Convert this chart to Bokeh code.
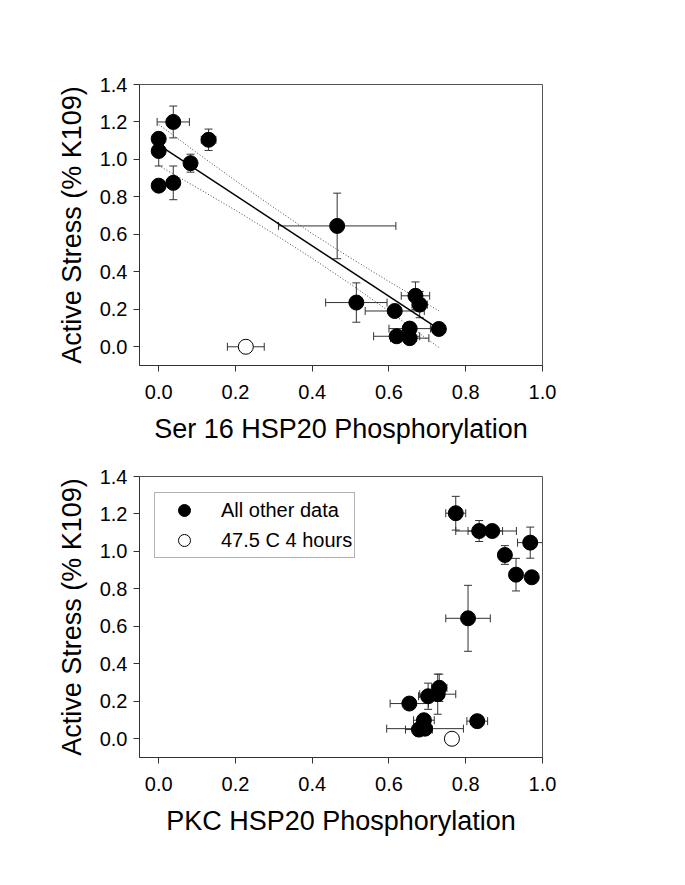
from bokeh.plotting import figure
from bokeh.models import (ColumnDataSource, Whisker, TeeHead, FixedTicker,
                          PrintfTickFormatter, Legend, LegendItem)
from bokeh.layouts import column
from bokeh.embed import file_html
from bokeh.resources import INLINE

# ---------------- data ----------------
x_ticks = [0.0, 0.2, 0.4, 0.6, 0.8, 1.0]
y_ticks = [0.0, 0.2, 0.4, 0.6, 0.8, 1.0, 1.2, 1.4]

# Panel 1: Ser 16 HSP20 phosphorylation
ser16_x    = [0.000, 0.000, 0.000, 0.038, 0.038, 0.130, 0.083, 0.465, 0.515, 0.615, 0.669, 0.680, 0.730, 0.654, 0.620, 0.654]
ser16_y    = [1.110, 1.045, 0.860, 1.200, 0.875, 1.105, 0.980, 0.645, 0.236, 0.191, 0.272, 0.225, 0.095, 0.097, 0.056, 0.046]
ser16_xerr = [0.000, 0.000, 0.000, 0.042, 0.000, 0.019, 0.000, 0.153, 0.080, 0.077, 0.037, 0.020, 0.015, 0.054, 0.060, 0.050]
ser16_yerr = [0.000, 0.080, 0.000, 0.085, 0.090, 0.057, 0.048, 0.175, 0.105, 0.000, 0.074, 0.070, 0.000, 0.000, 0.000, 0.000]

ser16_open_x    = [0.227]
ser16_open_y    = [0.000]
ser16_open_xerr = [0.048]
ser16_open_yerr = [0.000]

fit_x = [0.000, 0.730]
fit_y = [1.078, 0.094]

band_x     = [0.000, 0.100, 0.200, 0.300, 0.400, 0.500, 0.600, 0.730]
band_upper = [1.187, 1.035, 0.887, 0.743, 0.604, 0.474, 0.348, 0.192]
band_lower = [0.967, 0.849, 0.729, 0.603, 0.472, 0.334, 0.190, -0.004]

# Panel 2: PKC HSP20 phosphorylation
pkc_x    = [0.774, 0.835, 0.869, 0.968, 0.902, 0.931, 0.972, 0.806, 0.731, 0.727, 0.702, 0.653, 0.691, 0.678, 0.694, 0.830]
pkc_y    = [1.204, 1.109, 1.109, 1.047, 0.981, 0.876, 0.862, 0.643, 0.272, 0.238, 0.227, 0.188, 0.099, 0.049, 0.054, 0.094]
pkc_xerr = [0.026, 0.061, 0.063, 0.033, 0.000, 0.000, 0.000, 0.058, 0.020, 0.047, 0.025, 0.050, 0.027, 0.035, 0.100, 0.027]
pkc_yerr = [0.090, 0.056, 0.000, 0.083, 0.050, 0.087, 0.000, 0.176, 0.073, 0.107, 0.070, 0.000, 0.000, 0.000, 0.000, 0.000]

pkc_open_x    = [0.764]
pkc_open_y    = [0.000]
pkc_open_xerr = [0.000]
pkc_open_yerr = [0.000]

legend_labels = ["All other data", "47.5 C 4 hours"]

FONT = "Liberation Sans"
AX = "#333333"


def make_fig(height, border_top, border_bottom, xlabel):
    p = figure(width=574, height=height, x_range=(-0.05, 1.0), y_range=(-0.1, 1.4),
               output_backend="svg", toolbar_location=None,
               min_border_left=139, min_border_right=32,
               min_border_top=border_top, min_border_bottom=border_bottom)
    p.xgrid.visible = False
    p.ygrid.visible = False
    p.outline_line_color = "#555555"
    p.outline_line_width = 1
    p.background_fill_color = "white"
    p.border_fill_color = "white"
    for ax, ticks in ((p.xaxis[0], x_ticks), (p.yaxis[0], y_ticks)):
        ax.ticker = FixedTicker(ticks=ticks)
        ax.formatter = PrintfTickFormatter(format="%.1f")
        ax.minor_tick_line_color = None
        ax.major_tick_in = 0
        ax.major_tick_out = 6
        ax.axis_line_color = AX
        ax.major_tick_line_color = AX
        ax.major_label_text_font = FONT
        ax.major_label_text_font_size = "20px"
        ax.major_label_text_color = "black"
        ax.axis_label_text_font = FONT
        ax.axis_label_text_font_size = "27px"
        ax.axis_label_text_font_style = "normal"
        ax.axis_label_text_color = "black"
    p.xaxis.axis_label = xlabel
    p.yaxis.axis_label = "Active Stress (% K109)"
    p.xaxis.major_label_standoff = 13
    p.xaxis.axis_label_standoff = 12
    p.yaxis.major_label_standoff = 6
    p.yaxis.axis_label_standoff = 10
    return p


def add_errors(p, xs, ys, xe, ye):
    src = ColumnDataSource(dict(
        x=xs, y=ys,
        xl=[a - e for a, e in zip(xs, xe)], xu=[a + e for a, e in zip(xs, xe)],
        yl=[a - e for a, e in zip(ys, ye)], yu=[a + e for a, e in zip(ys, ye)]))
    for dim, base, lo, up in (("height", "x", "yl", "yu"), ("width", "y", "xl", "xu")):
        w = Whisker(base=base, lower=lo, upper=up, source=src, dimension=dim,
                    line_color=AX, line_width=1, level="underlay",
                    upper_head=TeeHead(size=8, line_color=AX, line_width=1),
                    lower_head=TeeHead(size=8, line_color=AX, line_width=1))
        p.add_layout(w)


# ---------------- top panel ----------------
p1 = make_fig(458, 84, 93, "Ser 16 HSP20 Phosphorylation")
add_errors(p1, ser16_x, ser16_y, ser16_xerr, ser16_yerr)
add_errors(p1, ser16_open_x, ser16_open_y, ser16_open_xerr, ser16_open_yerr)
p1.line(band_x, band_upper, line_color="#444444", line_width=1, line_dash="1 2")
p1.line(band_x, band_lower, line_color="#444444", line_width=1, line_dash="1 2")
p1.line(fit_x, fit_y, line_color="black", line_width=1.5)
p1.scatter(ser16_x, ser16_y, size=15, fill_color="black", line_color="black")
p1.scatter(ser16_open_x, ser16_open_y, size=15, fill_color="white", line_color="black", line_width=1)

# ---------------- bottom panel ----------------
p2 = make_fig(399, 18, 100, "PKC HSP20 Phosphorylation")
add_errors(p2, pkc_x, pkc_y, pkc_xerr, pkc_yerr)
add_errors(p2, pkc_open_x, pkc_open_y, pkc_open_xerr, pkc_open_yerr)
rf = p2.scatter(pkc_x, pkc_y, size=15, fill_color="black", line_color="black")
ro = p2.scatter(pkc_open_x, pkc_open_y, size=15, fill_color="white", line_color="black", line_width=1)

legend = Legend(items=[LegendItem(label=legend_labels[0], renderers=[rf]),
                       LegendItem(label=legend_labels[1], renderers=[ro])],
                location=(15, 199), orientation="vertical",
                glyph_height=30, glyph_width=54, label_height=30,
                label_standoff=10, spacing=0, padding=2, margin=0,
                label_text_font=FONT, label_text_font_size="20px",
                label_text_color="black",
                border_line_color="#666666", border_line_width=1,
                background_fill_color="white", background_fill_alpha=1.0)
p2.add_layout(legend, "center")

layout = column(p1, p2, spacing=0)
open("out.html", "w").write(file_html(layout, INLINE))
